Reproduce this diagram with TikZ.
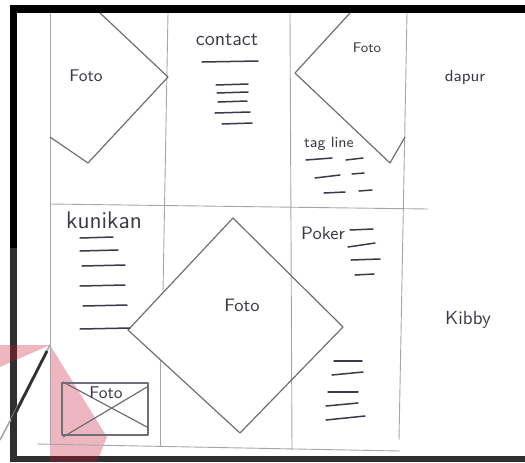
\documentclass[tikz,border=0pt]{standalone}
\usepackage{tikz}
\definecolor{pencil}{HTML}{6E6E78}
\definecolor{gridgrey}{HTML}{A6A6AA}
\definecolor{ink}{HTML}{3A3A4C}
\definecolor{framegrey}{HTML}{303030}
\definecolor{markred}{HTML}{C8102E}

\begin{document}
\begin{tikzpicture}[
  x=0.5pt,y=-0.5pt,
  gridline/.style={draw=gridgrey,line width=0.45pt},
  sketch/.style={draw=pencil,line width=0.6pt,line join=round},
  stroke/.style={draw=ink,line width=0.75pt,line cap=round},
  label/.style={text=ink,font=\sffamily,inner sep=0pt}
]
\useasboundingbox (0,0) rectangle (525,462);
% frame of the scan
\fill[black] (10,5) rectangle (525,13);
\fill[black] (10,5) rectangle (17,248);
\fill[framegrey] (10,248) rectangle (17,462);
\fill[framegrey] (10,456) rectangle (525,462);
% watermark
\fill[markred,opacity=0.3] (50,345) -- (0,345) -- (0,367) -- cycle;
\fill[markred,opacity=0.3] (50,345) -- (107,437) -- (97,462) -- (50,462) -- cycle;
\draw[gridgrey,line width=0.8pt] (50,345) -- (0,440);
\draw[framegrey,line width=1.4pt] (47,351) -- (12,420);

% grid
\draw[gridline] (50,13) -- (50,445);
\draw[gridline] (168,13) -- (163,292);
\draw[gridline] (160,359) -- (160,447);
\draw[gridline] (290,13) -- (292,450);
\draw[gridline] (407,13) -- (399,440);
\draw[gridline] (50,204) -- (428,209);
\draw[gridline] (37,444) -- (400,451);

% photo shapes
\draw[sketch] (100,13) -- (168,77) -- (88,163) -- (50,137);
\draw[sketch] (350,13) -- (295,73) -- (390,163) -- (405,137);
\draw[sketch] (233,218) -- (343,327) -- (240,433) -- (128,330) -- cycle;
\draw[sketch] (62,383) rectangle (148,435);
\draw[sketch] (63,382) -- (147,427);
\draw[sketch] (147,387) -- (63,437);

% labels
\node[label,font=\sffamily\fontsize{8.5}{9}\selectfont] (foto1) at (86,76) {Foto};
\node[label,font=\sffamily\fontsize{10}{11}\selectfont] (contact) at (227,40) {contact};
\node[label,font=\sffamily\fontsize{7}{8}\selectfont] (foto2) at (367,48) {Foto};
\node[label,font=\sffamily\fontsize{7.5}{8}\selectfont] (tagline) at (329,144) {tag line};
\node[label,font=\sffamily\fontsize{8}{9}\selectfont] (dapur) at (465,77) {dapur};
\node[label,font=\sffamily\fontsize{12}{13}\selectfont] (kunikan) at (104,220) {kunikan};
\node[label,font=\sffamily\fontsize{9}{10}\selectfont] (poker) at (323,233) {Poker};
\node[label,font=\sffamily\fontsize{9}{10}\selectfont] (foto3) at (242,305) {Foto};
\node[label,font=\sffamily\fontsize{9.5}{10}\selectfont] (kibby) at (468,320) {Kibby};
\node[label,font=\sffamily\fontsize{8.5}{9}\selectfont] (foto4) at (106,393) {Foto};

% text strokes
\draw[stroke] (202,62) -- (258,61);
\foreach \ya/\xa/\xb in {85/216/248,93/217/248,102/218/247,113/215/250,124/222/252}
  \draw[stroke] (\xa,\ya) -- (\xb,\ya-1);
\foreach \xa/\ya/\xb/\yb in {306/160/332/158,346/160/363/158,315/178/340/175,352/174/364/173,324/193/345/192,359/191/372/190}
  \draw[stroke] (\xa,\ya) -- (\xb,\yb);
\foreach \ya/\xa/\xb in {238/80/113,251/80/118,266/82/125,286/80/125,306/83/127,329/80/130}
  \draw[stroke] (\xa,\ya) -- (\xb,\ya-1);
\foreach \xa/\ya/\xb/\yb in {350/230/373/229,348/247/375/243,351/260/380/259,355/275/374/274,334/361/362/361,332/375/363/372,328/392/358/392,326/406/358/403,326/420/365/416}
  \draw[stroke] (\xa,\ya) -- (\xb,\yb);
\end{tikzpicture}
\end{document}
